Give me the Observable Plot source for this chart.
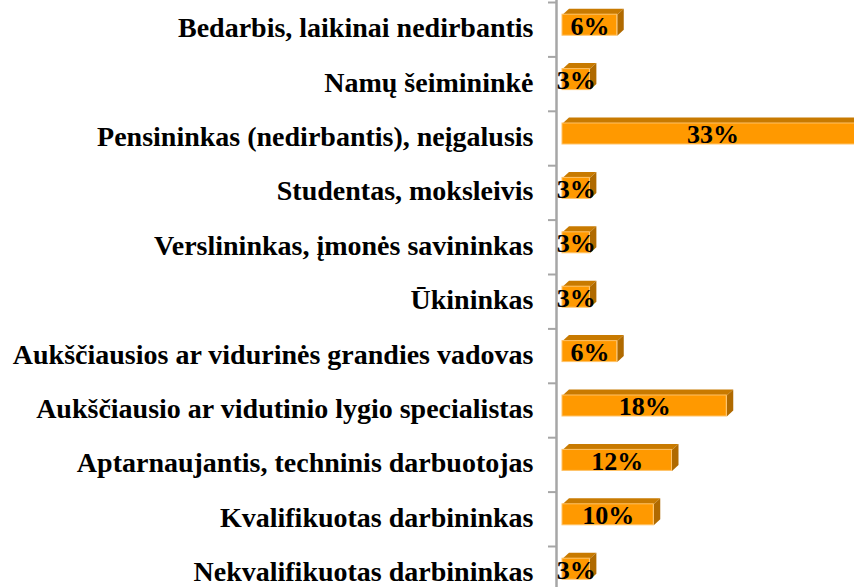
<!DOCTYPE html>
<html>
<head>
<meta charset="utf-8">
<script src="https://cdn.jsdelivr.net/npm/d3@7"></script>
<script src="https://cdn.jsdelivr.net/npm/@observablehq/plot@0.6"></script>
<style>
  html, body { margin: 0; padding: 0; background: #fff; }
  svg { display: block; }
</style>
</head>
<body>
<div id="chart"></div>
<script>
const categories = [
  "Bedarbis, laikinai nedirbantis",
  "Namų šeimininkė",
  "Pensininkas (nedirbantis), neįgalusis",
  "Studentas, moksleivis",
  "Verslininkas, įmonės savininkas",
  "Ūkininkas",
  "Aukščiausios ar vidurinės grandies vadovas",
  "Aukščiausio ar vidutinio lygio specialistas",
  "Aptarnaujantis, techninis darbuotojas",
  "Kvalifikuotas darbininkas",
  "Nekvalifikuotas darbininkas"
];
const values = [6, 3, 33, 3, 3, 3, 6, 18, 12, 10, 3];
const valueLabels = ["6%", "3%", "33%", "3%", "3%", "3%", "6%", "18%", "12%", "10%", "3%"];

const W = 854, H = 587;
const marginLeft = 562;
const rowStep = 54.4;
const pxX = (W - marginLeft) / 32;   // px per percent
const depthX = 6.5 / pxX;            // 3D depth in x units
const depthY = 6 / rowStep;          // 3D depth in y units
const faceTop = -15 / rowStep, faceBot = 6 / rowStep;

const rows = categories.map((c, i) => ({i, c, v: values[i], label: valueLabels[i]}));
const topFaces = rows.flatMap(d => {
  const y0 = d.i + faceTop;
  return [
    {i: d.i, x: 0, y: y0}, {i: d.i, x: d.v, y: y0},
    {i: d.i, x: d.v + depthX, y: y0 - depthY}, {i: d.i, x: depthX, y: y0 - depthY}
  ];
});
const sideFaces = rows.flatMap(d => {
  const y0 = d.i + faceTop, y1 = d.i + faceBot;
  return [
    {i: d.i, x: d.v, y: y0}, {i: d.i, x: d.v, y: y1},
    {i: d.i, x: d.v + depthX, y: y1 - depthY}, {i: d.i, x: d.v + depthX, y: y0 - depthY}
  ];
});
const boundaries = d3.range(categories.length).map(i => i - 0.5);

const chart = Plot.plot({
  width: W,
  height: H,
  marginLeft,
  marginRight: 0,
  marginTop: 0,
  marginBottom: 0,
  style: {fontFamily: "'Liberation Serif', 'Times New Roman', serif", background: "#fff"},
  x: {domain: [0, 32], axis: null},
  y: {domain: [-0.5, categories.length - 0.5], range: [2, 2 + rowStep * categories.length], axis: null},
  marks: [
    Plot.ruleX([0], {dx: -6, stroke: "#a6a6a6", strokeWidth: 2.5}),
    Plot.axisY(boundaries, {anchor: "left", tickSize: 8, tickFormat: () => "", dx: -6, stroke: "#a6a6a6", strokeWidth: 2}),
    Plot.line(topFaces, {x: "x", y: "y", z: "i", fill: "#c87a00", stroke: "none"}),
    Plot.line(sideFaces, {x: "x", y: "y", z: "i", fill: "#b06a00", stroke: "none"}),
    Plot.rect(rows, {x1: 0, x2: "v", y1: d => d.i + faceTop, y2: d => d.i + faceBot, fill: "#ff9900", stroke: "#ffc266", strokeWidth: 1}),
    Plot.text(rows, {x: 0, y: "i", text: "c", textAnchor: "end", dx: -29, dy: -1.5, fontSize: 28, fontWeight: "bold", fill: "#000"}),
    Plot.text(rows, {x: d => d.v / 2, y: d => d.i + (faceTop + faceBot) / 2, dy: 1, text: "label", fontSize: 26, fontWeight: "bold", fill: "#000"})
  ]
});
document.getElementById("chart").appendChild(chart);
</script>
</body>
</html>
